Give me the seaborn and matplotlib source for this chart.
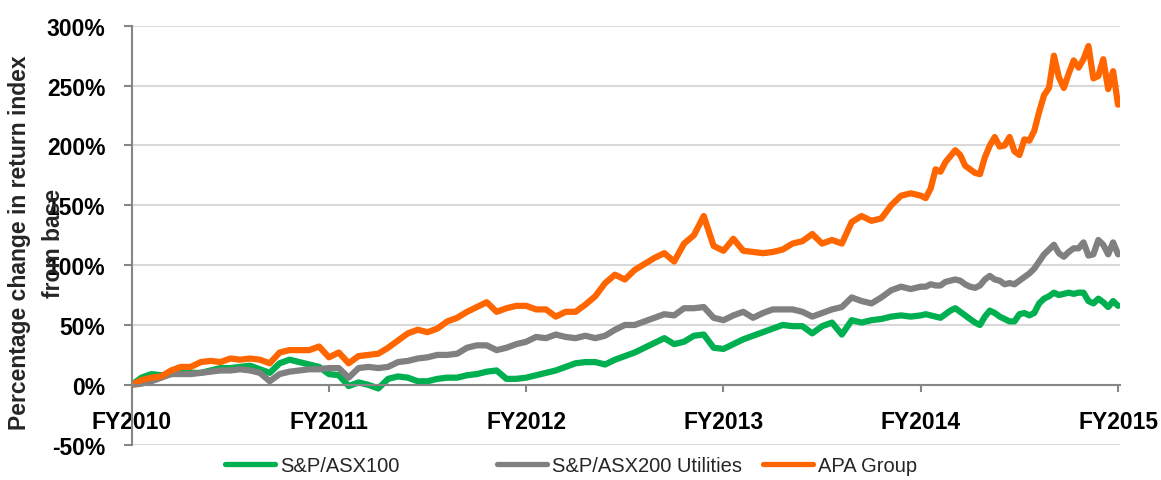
import numpy as np, pandas as pd
import matplotlib
matplotlib.use("Agg")
import matplotlib.pyplot as plt
import seaborn as sns
from matplotlib.ticker import FuncFormatter
from matplotlib.lines import Line2D

sns.set_theme(style="white")
plt.rcParams['font.family'] = ['Liberation Sans', 'DejaVu Sans']

# === data ===
series_names = ["S&P/ASX100", "S&P/ASX200 Utilities", "APA Group"]
series_colors = ["#00B050", "#808080", "#FF6600"]
fy_labels = ["FY2010", "FY2011", "FY2012", "FY2013", "FY2014", "FY2015"]
y_ticks = [-50, 0, 50, 100, 150, 200, 250, 300]
# time axis: years since FY2010 base (finer sampling in the last year)
years = np.r_[np.arange(0, 4, 0.05), np.linspace(4, 5, 41)]

asx100 = [0, 6, 9, 8, 9, 10, 10, 10, 12, 14,
          14, 15, 16, 13, 10, 18, 21, 19, 17, 15,
          9, 8, -1, 2, 0, -3, 5, 7, 6, 3,
          3, 5, 6, 6, 8, 9, 11, 12, 5, 5,
          6, 8, 10, 12, 15, 18, 19, 19, 17, 21,
          24, 27, 31, 35, 39, 34, 36, 41, 42, 31,
          30, 34, 38, 41, 44, 47, 50, 49, 49, 43,
          49, 52, 42, 54, 52, 54, 55, 57, 58, 57,
          58, 59, 58, 57, 56, 59, 62, 64, 61, 58,
          55, 52, 50, 57, 62, 60, 57, 55, 53, 53,
          59, 60, 58, 60, 68, 72, 74, 77, 75, 76,
          77, 76, 77, 77, 70, 68, 72, 69, 65, 70,
          66]

utilities = [0, 1, 3, 6, 9, 9, 9, 10, 11, 12,
             12, 13, 12, 10, 3, 9, 11, 12, 13, 13,
             14, 14, 6, 14, 15, 14, 15, 19, 20, 22,
             23, 25, 25, 26, 31, 33, 33, 29, 31, 34,
             36, 40, 39, 42, 40, 39, 41, 39, 41, 46,
             50, 50, 53, 56, 59, 58, 64, 64, 65, 56,
             54, 58, 61, 56, 60, 63, 63, 63, 61, 57,
             60, 63, 65, 73, 70, 68, 73, 79, 82, 80,
             82, 82, 84, 83, 83, 86, 87, 88, 87, 84,
             82, 81, 83, 88, 91, 88, 87, 84, 85, 84,
             87, 90, 93, 97, 103, 109, 113, 117, 110, 107,
             111, 114, 114, 119, 108, 109, 121, 117, 109, 119,
             109]

apa = [0, 4, 6, 7, 12, 15, 15, 19, 20, 19,
       22, 21, 22, 21, 18, 27, 29, 29, 29, 32,
       23, 27, 18, 24, 25, 26, 31, 37, 43, 46,
       44, 47, 53, 56, 61, 65, 69, 61, 64, 66,
       66, 63, 63, 57, 61, 61, 67, 74, 85, 92,
       88, 96, 101, 106, 110, 103, 118, 125, 141, 116,
       112, 122, 112, 111, 110, 111, 113, 118, 120, 126,
       118, 121, 118, 136, 141, 137, 139, 150, 158, 160,
       158, 156, 164, 180, 178, 186, 191, 196, 192, 183,
       180, 177, 176, 190, 200, 207, 199, 200, 207, 195,
       192, 205, 204, 212, 228, 242, 248, 275, 257, 248,
       260, 271, 265, 272, 283, 256, 258, 272, 247, 262,
       234]

df = pd.concat([pd.DataFrame({"year": years, "pct": vals, "series": name})
                for name, vals in zip(series_names, [asx100, utilities, apa])],
               ignore_index=True)

# === figure ===
fig = plt.figure(figsize=(11.61, 4.81), dpi=100)
fig.patch.set_facecolor('white')
ax = fig.add_axes([0.1134, 0.0734, 0.8513, 0.8711])

sns.lineplot(data=df, x="year", y="pct", hue="series", hue_order=series_names,
             palette=series_colors, estimator=None, linewidth=4.5, ax=ax, legend=False)

ax.set_xlim(0, 5.01)
ax.set_ylim(-50, 300)
ax.set_yticks(y_ticks)
ax.yaxis.set_major_formatter(FuncFormatter(lambda v, p: f"{v:.0f}%"))
ax.set_xticks(range(len(fy_labels)))
ax.set_xticklabels(fy_labels)
ax.set_xlabel(""); ax.set_ylabel("")

ax.yaxis.grid(True, color='#D9D9D9', linewidth=1.5)
ax.xaxis.grid(False)
ax.set_axisbelow(True)

for side in ['top', 'right']:
    ax.spines[side].set_visible(False)
ax.spines['left'].set_color('#868686'); ax.spines['left'].set_linewidth(1.5)
ax.spines['bottom'].set_position(('data', 0))
ax.spines['bottom'].set_color('#868686'); ax.spines['bottom'].set_linewidth(1.5)

ax.tick_params(axis='y', direction='out', left=True, length=6, width=1.5, color='#868686',
               pad=13, labelsize=16.5)
ax.tick_params(axis='x', direction='out', bottom=True, length=5, width=1.5, color='#868686',
               pad=13, labelsize=16.5)
for lab in ax.get_xticklabels() + ax.get_yticklabels():
    lab.set_fontweight('bold'); lab.set_color('black')

# y label overlaps the tick labels, as in the reference
fig.text(36.5 / 1161, 1 - 243 / 481, "Percentage change in return index\nfrom base",
         rotation=90, ha='center', va='center', fontsize=16.5, fontweight='bold',
         linespacing=1.6, multialignment='center')

# legend: three evenly spaced entries below the plot
legend_x = [225, 497, 763]
for name, col, lx in zip(series_names, series_colors, legend_x):
    h = Line2D([], [], color=col, linewidth=3.8, solid_capstyle='round')
    fig.legend([h], [name], loc='center left', bbox_to_anchor=(lx / 1161, 1 - 467 / 481),
               frameon=False, fontsize=14.5, handlelength=2.5, handletextpad=0.25,
               borderpad=0, borderaxespad=0)

fig.savefig("out.png", dpi=100)
